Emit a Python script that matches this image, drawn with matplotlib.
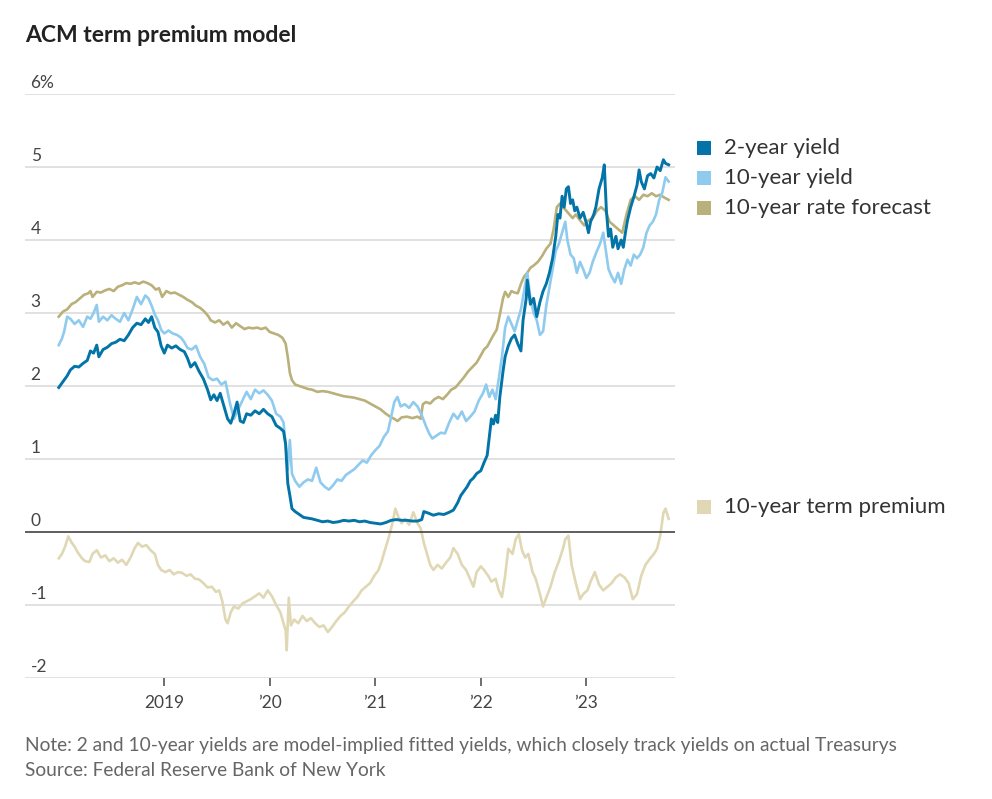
import numpy as np
import matplotlib.pyplot as plt

plt.rcParams['font.family'] = ['Lato', 'DejaVu Sans']

# fractional years and percent values
t_2y = [2018.00, 2018.04, 2018.08, 2018.11, 2018.15, 2018.19, 2018.23, 2018.27, 2018.30, 2018.33,
        2018.36, 2018.38, 2018.42, 2018.46, 2018.50, 2018.54, 2018.58, 2018.62, 2018.66, 2018.70,
        2018.74, 2018.78, 2018.82, 2018.85, 2018.88, 2018.91, 2018.94, 2018.97, 2019.00, 2019.03,
        2019.07, 2019.11, 2019.15, 2019.19, 2019.22, 2019.25, 2019.29, 2019.33, 2019.37, 2019.41,
        2019.44, 2019.47, 2019.50, 2019.53, 2019.57, 2019.60, 2019.63, 2019.66, 2019.69, 2019.72,
        2019.75, 2019.78, 2019.82, 2019.86, 2019.90, 2019.94, 2019.98, 2020.02, 2020.06, 2020.10,
        2020.13, 2020.15, 2020.17, 2020.19, 2020.21, 2020.24, 2020.28, 2020.32, 2020.36, 2020.40,
        2020.45, 2020.50, 2020.55, 2020.60, 2020.65, 2020.70, 2020.75, 2020.80, 2020.85, 2020.90,
        2020.95, 2021.00, 2021.05, 2021.10, 2021.15, 2021.20, 2021.25, 2021.30, 2021.35, 2021.40,
        2021.44, 2021.46, 2021.50, 2021.55, 2021.60, 2021.65, 2021.70, 2021.74, 2021.78, 2021.81,
        2021.84, 2021.87, 2021.90, 2021.93, 2021.96, 2022.00, 2022.03, 2022.06, 2022.08, 2022.10,
        2022.12, 2022.14, 2022.16, 2022.18, 2022.21, 2022.23, 2022.26, 2022.29, 2022.32, 2022.35,
        2022.38, 2022.40, 2022.43, 2022.44, 2022.47, 2022.50, 2022.53, 2022.56, 2022.59, 2022.62,
        2022.65, 2022.68, 2022.71, 2022.73, 2022.75, 2022.77, 2022.79, 2022.81, 2022.83, 2022.85,
        2022.87, 2022.89, 2022.91, 2022.94, 2022.97, 2023.00, 2023.02, 2023.04, 2023.07, 2023.09,
        2023.12, 2023.15, 2023.17, 2023.19, 2023.21, 2023.23, 2023.25, 2023.28, 2023.30, 2023.33,
        2023.35, 2023.37, 2023.39, 2023.42, 2023.45, 2023.48, 2023.50, 2023.52, 2023.55, 2023.58,
        2023.61, 2023.64, 2023.67, 2023.70, 2023.73, 2023.75, 2023.78]
y_2y = [1.98, 2.06, 2.14, 2.22, 2.27, 2.26, 2.31, 2.35, 2.48, 2.45,
        2.56, 2.40, 2.50, 2.53, 2.58, 2.60, 2.64, 2.62, 2.70, 2.80,
        2.86, 2.84, 2.92, 2.87, 2.95, 2.80, 2.74, 2.55, 2.45, 2.56,
        2.52, 2.55, 2.50, 2.47, 2.38, 2.26, 2.32, 2.20, 2.10, 1.95,
        1.81, 1.88, 1.80, 1.90, 1.70, 1.55, 1.49, 1.62, 1.78, 1.52,
        1.50, 1.62, 1.60, 1.66, 1.62, 1.68, 1.62, 1.58, 1.46, 1.42,
        1.38, 1.20, 0.67, 0.50, 0.32, 0.28, 0.24, 0.20, 0.19, 0.18,
        0.16, 0.14, 0.15, 0.13, 0.14, 0.16, 0.15, 0.16, 0.14, 0.15,
        0.13, 0.12, 0.11, 0.13, 0.16, 0.17, 0.16, 0.16, 0.15, 0.15,
        0.17, 0.28, 0.26, 0.23, 0.25, 0.24, 0.27, 0.30, 0.40, 0.50,
        0.56, 0.62, 0.70, 0.74, 0.80, 0.84, 0.95, 1.05, 1.30, 1.55,
        1.48, 1.60, 1.50, 1.85, 2.20, 2.40, 2.55, 2.65, 2.70, 2.58,
        2.48, 2.90, 3.20, 3.45, 3.12, 3.20, 2.95, 3.15, 3.30, 3.40,
        3.55, 3.75, 4.05, 4.35, 4.30, 4.60, 4.45, 4.70, 4.73, 4.50,
        4.55, 4.40, 4.45, 4.30, 4.38, 4.23, 4.10, 4.25, 4.35, 4.45,
        4.70, 4.85, 5.03, 4.40, 4.05, 4.15, 3.90, 4.05, 3.88, 4.00,
        3.90, 4.10, 4.27, 4.45, 4.59, 4.75, 4.96, 4.80, 4.70, 4.88,
        4.91, 4.85, 5.00, 4.95, 5.10, 5.05, 5.03]

t_10y = [2018.00, 2018.03, 2018.05, 2018.08, 2018.11, 2018.15, 2018.19, 2018.23, 2018.27, 2018.30,
         2018.33, 2018.36, 2018.38, 2018.42, 2018.46, 2018.50, 2018.54, 2018.58, 2018.62, 2018.66,
         2018.70, 2018.74, 2018.78, 2018.82, 2018.85, 2018.88, 2018.91, 2018.94, 2018.97, 2019.00,
         2019.04, 2019.08, 2019.12, 2019.16, 2019.19, 2019.22, 2019.26, 2019.30, 2019.34, 2019.38,
         2019.42, 2019.46, 2019.50, 2019.54, 2019.58, 2019.62, 2019.66, 2019.70, 2019.74, 2019.78,
         2019.82, 2019.86, 2019.90, 2019.94, 2019.98, 2020.02, 2020.06, 2020.10, 2020.13, 2020.15,
         2020.17, 2020.19, 2020.21, 2020.24, 2020.28, 2020.32, 2020.36, 2020.40, 2020.44, 2020.48,
         2020.52, 2020.56, 2020.60, 2020.64, 2020.68, 2020.72, 2020.76, 2020.80, 2020.84, 2020.88,
         2020.92, 2020.96, 2021.00, 2021.04, 2021.08, 2021.12, 2021.15, 2021.18, 2021.21, 2021.24,
         2021.28, 2021.32, 2021.36, 2021.40, 2021.44, 2021.48, 2021.51, 2021.54, 2021.58, 2021.62,
         2021.66, 2021.70, 2021.74, 2021.78, 2021.82, 2021.86, 2021.90, 2021.94, 2021.98, 2022.02,
         2022.05, 2022.08, 2022.11, 2022.14, 2022.17, 2022.20, 2022.23, 2022.26, 2022.29, 2022.32,
         2022.35, 2022.38, 2022.41, 2022.44, 2022.47, 2022.50, 2022.53, 2022.56, 2022.59, 2022.62,
         2022.65, 2022.68, 2022.71, 2022.74, 2022.77, 2022.80, 2022.82, 2022.85, 2022.88, 2022.91,
         2022.94, 2022.97, 2023.00, 2023.03, 2023.06, 2023.10, 2023.13, 2023.16, 2023.18, 2023.21,
         2023.24, 2023.27, 2023.30, 2023.33, 2023.36, 2023.39, 2023.42, 2023.45, 2023.48, 2023.51,
         2023.54, 2023.57, 2023.60, 2023.63, 2023.66, 2023.69, 2023.72, 2023.75, 2023.78]
y_10y = [2.56, 2.65, 2.74, 2.95, 2.92, 2.85, 2.90, 2.81, 2.95, 2.92,
         3.00, 3.11, 2.88, 2.95, 2.90, 2.97, 2.92, 2.88, 3.00, 2.90,
         3.05, 3.22, 3.12, 3.24, 3.20, 3.10, 2.98, 2.90, 2.77, 2.72,
         2.76, 2.72, 2.70, 2.66, 2.60, 2.52, 2.50, 2.55, 2.40, 2.30,
         2.12, 2.08, 2.10, 2.02, 2.06, 1.78, 1.55, 1.68, 1.80, 1.92,
         1.82, 1.95, 1.90, 1.94, 1.88, 1.80, 1.62, 1.58, 1.50, 1.20,
         0.85, 1.26, 0.80, 0.70, 0.62, 0.68, 0.72, 0.70, 0.88, 0.68,
         0.62, 0.58, 0.64, 0.72, 0.70, 0.78, 0.82, 0.86, 0.92, 0.98,
         0.95, 1.05, 1.12, 1.18, 1.30, 1.38, 1.58, 1.78, 1.85, 1.72,
         1.75, 1.70, 1.78, 1.72, 1.60, 1.45, 1.35, 1.28, 1.32, 1.36,
         1.35, 1.50, 1.62, 1.55, 1.65, 1.52, 1.58, 1.65, 1.80, 1.90,
         2.02, 1.85, 1.95, 1.82, 2.10, 2.40, 2.80, 2.95, 2.85, 2.75,
         2.90, 3.05, 3.30, 3.55, 3.20, 3.00, 2.90, 2.70, 2.75, 3.10,
         3.35, 3.60, 3.85, 3.95, 4.10, 4.25, 4.00, 3.80, 3.75, 3.55,
         3.70, 3.60, 3.48, 3.55, 3.70, 3.85, 3.95, 4.10, 3.90, 3.60,
         3.50, 3.42, 3.55, 3.40, 3.60, 3.73, 3.65, 3.80, 3.75, 3.80,
         3.90, 4.10, 4.20, 4.25, 4.35, 4.55, 4.65, 4.86, 4.80]

t_fc = [2018.00, 2018.04, 2018.08, 2018.12, 2018.16, 2018.20, 2018.24, 2018.28, 2018.30, 2018.32,
        2018.36, 2018.40, 2018.44, 2018.48, 2018.52, 2018.56, 2018.60, 2018.64, 2018.68, 2018.72,
        2018.76, 2018.80, 2018.84, 2018.88, 2018.92, 2018.95, 2018.98, 2019.02, 2019.06, 2019.10,
        2019.14, 2019.18, 2019.22, 2019.26, 2019.30, 2019.34, 2019.38, 2019.42, 2019.44, 2019.48,
        2019.52, 2019.56, 2019.60, 2019.64, 2019.68, 2019.72, 2019.76, 2019.80, 2019.84, 2019.88,
        2019.92, 2019.96, 2020.00, 2020.04, 2020.08, 2020.12, 2020.15, 2020.17, 2020.19, 2020.21,
        2020.24, 2020.28, 2020.32, 2020.36, 2020.40, 2020.45, 2020.50, 2020.55, 2020.60, 2020.65,
        2020.70, 2020.75, 2020.80, 2020.85, 2020.90, 2020.95, 2021.00, 2021.05, 2021.10, 2021.14,
        2021.18, 2021.21, 2021.25, 2021.30, 2021.35, 2021.40, 2021.43, 2021.45, 2021.48, 2021.52,
        2021.56, 2021.60, 2021.64, 2021.68, 2021.72, 2021.76, 2021.80, 2021.84, 2021.88, 2021.92,
        2021.96, 2022.00, 2022.03, 2022.06, 2022.09, 2022.12, 2022.15, 2022.18, 2022.21, 2022.23,
        2022.26, 2022.29, 2022.32, 2022.35, 2022.38, 2022.41, 2022.44, 2022.47, 2022.50, 2022.54,
        2022.58, 2022.62, 2022.66, 2022.69, 2022.72, 2022.75, 2022.78, 2022.81, 2022.84, 2022.87,
        2022.90, 2022.94, 2022.98, 2023.02, 2023.06, 2023.10, 2023.14, 2023.18, 2023.22, 2023.26,
        2023.30, 2023.34, 2023.38, 2023.42, 2023.46, 2023.50, 2023.54, 2023.58, 2023.62, 2023.66,
        2023.70, 2023.74, 2023.78]
y_fc = [2.95, 3.02, 3.05, 3.12, 3.15, 3.20, 3.25, 3.27, 3.30, 3.22,
        3.29, 3.28, 3.31, 3.33, 3.30, 3.36, 3.38, 3.41, 3.40, 3.42,
        3.40, 3.43, 3.41, 3.38, 3.32, 3.34, 3.22, 3.30, 3.27, 3.28,
        3.25, 3.22, 3.18, 3.15, 3.10, 3.07, 3.02, 2.95, 2.90, 2.87,
        2.90, 2.84, 2.88, 2.80, 2.86, 2.82, 2.78, 2.80, 2.79, 2.80,
        2.78, 2.80, 2.74, 2.72, 2.70, 2.66, 2.58, 2.40, 2.18, 2.08,
        2.02, 2.00, 1.98, 1.96, 1.95, 1.92, 1.93, 1.92, 1.90, 1.88,
        1.86, 1.85, 1.84, 1.82, 1.80, 1.76, 1.72, 1.68, 1.62, 1.58,
        1.55, 1.52, 1.57, 1.58, 1.56, 1.58, 1.55, 1.75, 1.78, 1.76,
        1.82, 1.85, 1.82, 1.88, 1.95, 1.98, 2.05, 2.12, 2.20, 2.26,
        2.32, 2.42, 2.50, 2.54, 2.62, 2.70, 2.77, 2.98, 3.20, 3.29,
        3.22, 3.30, 3.28, 3.27, 3.40, 3.50, 3.55, 3.62, 3.65, 3.70,
        3.78, 3.88, 3.95, 4.15, 4.45, 4.50, 4.45, 4.40, 4.35, 4.30,
        4.35, 4.27, 4.20, 4.27, 4.30, 4.40, 4.45, 4.40, 4.25, 4.20,
        4.15, 4.10, 4.35, 4.55, 4.60, 4.55, 4.62, 4.60, 4.64, 4.60,
        4.62, 4.58, 4.55]

t_tp = [2018.00, 2018.03, 2018.06, 2018.09, 2018.12, 2018.15, 2018.18, 2018.22, 2018.25, 2018.29,
        2018.32, 2018.36, 2018.40, 2018.44, 2018.48, 2018.52, 2018.56, 2018.60, 2018.64, 2018.68,
        2018.72, 2018.75, 2018.79, 2018.83, 2018.87, 2018.91, 2018.94, 2018.97, 2019.01, 2019.05,
        2019.09, 2019.13, 2019.17, 2019.21, 2019.25, 2019.29, 2019.33, 2019.37, 2019.41, 2019.45,
        2019.49, 2019.52, 2019.55, 2019.58, 2019.60, 2019.63, 2019.66, 2019.70, 2019.74, 2019.78,
        2019.82, 2019.86, 2019.90, 2019.94, 2019.98, 2020.02, 2020.06, 2020.10, 2020.13, 2020.15,
        2020.16, 2020.18, 2020.20, 2020.23, 2020.27, 2020.31, 2020.35, 2020.39, 2020.43, 2020.47,
        2020.51, 2020.55, 2020.59, 2020.63, 2020.67, 2020.71, 2020.75, 2020.79, 2020.83, 2020.87,
        2020.91, 2020.95, 2020.99, 2021.03, 2021.06, 2021.09, 2021.12, 2021.15, 2021.17, 2021.19,
        2021.22, 2021.25, 2021.28, 2021.32, 2021.36, 2021.40, 2021.43, 2021.46, 2021.49, 2021.52,
        2021.55, 2021.59, 2021.63, 2021.67, 2021.71, 2021.74, 2021.78, 2021.82, 2021.86, 2021.90,
        2021.93, 2021.96, 2022.00, 2022.03, 2022.07, 2022.10, 2022.14, 2022.17, 2022.20, 2022.23,
        2022.26, 2022.30, 2022.33, 2022.36, 2022.39, 2022.42, 2022.45, 2022.49, 2022.52, 2022.56,
        2022.59, 2022.62, 2022.66, 2022.70, 2022.74, 2022.78, 2022.80, 2022.83, 2022.86, 2022.90,
        2022.94, 2022.97, 2023.01, 2023.04, 2023.08, 2023.12, 2023.16, 2023.20, 2023.24, 2023.28,
        2023.32, 2023.36, 2023.40, 2023.44, 2023.48, 2023.52, 2023.56, 2023.60, 2023.64, 2023.67,
        2023.70, 2023.73, 2023.75, 2023.78]
y_tp = [-0.36, -0.30, -0.20, -0.06, -0.14, -0.20, -0.28, -0.36, -0.40, -0.41,
        -0.30, -0.25, -0.35, -0.32, -0.40, -0.36, -0.42, -0.38, -0.45, -0.35,
        -0.22, -0.15, -0.20, -0.18, -0.25, -0.30, -0.45, -0.52, -0.55, -0.52,
        -0.58, -0.55, -0.56, -0.60, -0.58, -0.64, -0.65, -0.70, -0.76, -0.75,
        -0.82, -0.80, -0.95, -1.20, -1.25, -1.10, -1.02, -1.05, -0.98, -0.95,
        -0.92, -0.88, -0.84, -0.90, -0.80, -0.88, -1.00, -1.10, -1.25, -1.35,
        -1.62, -0.90, -1.28, -1.20, -1.25, -1.15, -1.22, -1.18, -1.25, -1.30,
        -1.28, -1.37, -1.30, -1.22, -1.15, -1.10, -1.02, -0.95, -0.89, -0.80,
        -0.75, -0.70, -0.60, -0.52, -0.40, -0.25, -0.11, 0.05, 0.18, 0.32,
        0.20, 0.12, 0.18, 0.10, 0.27, 0.12, 0.05, -0.15, -0.30, -0.45,
        -0.52, -0.45, -0.50, -0.42, -0.35, -0.22, -0.30, -0.45, -0.52, -0.65,
        -0.75, -0.55, -0.47, -0.52, -0.60, -0.68, -0.64, -0.80, -0.89, -0.60,
        -0.23, -0.30, -0.10, -0.03, -0.25, -0.35, -0.30, -0.55, -0.64, -0.85,
        -1.02, -0.90, -0.75, -0.55, -0.40, -0.22, -0.10, -0.05, -0.45, -0.70,
        -0.92, -0.85, -0.80, -0.68, -0.55, -0.72, -0.80, -0.75, -0.70, -0.62,
        -0.58, -0.62, -0.70, -0.92, -0.85, -0.60, -0.45, -0.37, -0.30, -0.23,
        -0.05, 0.26, 0.32, 0.18]

year_ticks = [2019, 2020, 2021, 2022, 2023]
year_labels = ['2019', '\u201920', '\u201921', '\u201922', '\u201923']
y_ticks = [6, 5, 4, 3, 2, 1, 0, -1, -2]
y_labels = ['6%', '5', '4', '3', '2', '1', '0', '-1', '-2']

c_2y = '#0274a8'
c_10y = '#8fcbee'
c_fc = '#b9b07a'
c_tp = '#e0d8b4'
c_text = '#444444'
c_grid = '#dcdcdc'

fig = plt.figure(figsize=(9.92, 7.99), dpi=100)
ax = fig.add_axes([25 / 992, 1 - 678 / 799, 650 / 992, 584 / 799])

for v in y_ticks:
	if v == 0:
		ax.axhline(v, color='#333333', lw=1.1, zorder=5)
	else:
		ax.axhline(v, color=c_grid, lw=1.2, zorder=0)

ax.plot(t_tp, y_tp, color=c_tp, lw=1.9, zorder=2)
ax.plot(t_fc, y_fc, color=c_fc, lw=1.9, zorder=3)
ax.plot(t_10y, y_10y, color=c_10y, lw=1.9, zorder=4)
ax.plot(t_2y, y_2y, color=c_2y, lw=2.1, zorder=6)

ax.set_xlim(2017.68, 2023.84)
ax.set_ylim(-2, 6)
for s in ax.spines.values():
	s.set_visible(False)
ax.set_yticks([])
ax.set_xticks(year_ticks)
ax.set_xticklabels(year_labels, fontsize=12.5, color=c_text)
ax.tick_params(axis='x', length=6, width=1.2, color='#555555', pad=6)

for v, lab in zip(y_ticks, y_labels):
	ax.annotate(lab, (0, v), xycoords=('axes fraction', 'data'), xytext=(4, 2),
		textcoords='offset points', fontsize=12.5, color=c_text, va='bottom', ha='left')

fig.text(25 / 992, 1 - 36 / 799, 'ACM term premium model', fontsize=16.5, fontweight='bold',
	color='#222222', va='center', ha='left')

legend_items = [('2-year yield', c_2y, 148), ('10-year yield', c_10y, 178),
	('10-year rate forecast', c_fc, 208), ('10-year term premium', c_tp, 507)]
for lab, col, py in legend_items:
	fig.patches.append(plt.Rectangle((697 / 992, 1 - (py + 7) / 799), 14 / 992, 14 / 799,
		transform=fig.transFigure, facecolor=col, edgecolor='none'))
	fig.text(724 / 992, 1 - py / 799, lab, fontsize=16, color='#333333', va='center', ha='left')

fig.text(25 / 992, 1 - 745 / 799, 'Note: 2 and 10-year yields are model-implied fitted yields, which closely track yields on actual Treasurys',
	fontsize=13.8, color='#666666', va='center', ha='left')
fig.text(25 / 992, 1 - 771 / 799, 'Source: Federal Reserve Bank of New York',
	fontsize=13.8, color='#666666', va='center', ha='left')

fig.savefig('out.png', dpi=100)
